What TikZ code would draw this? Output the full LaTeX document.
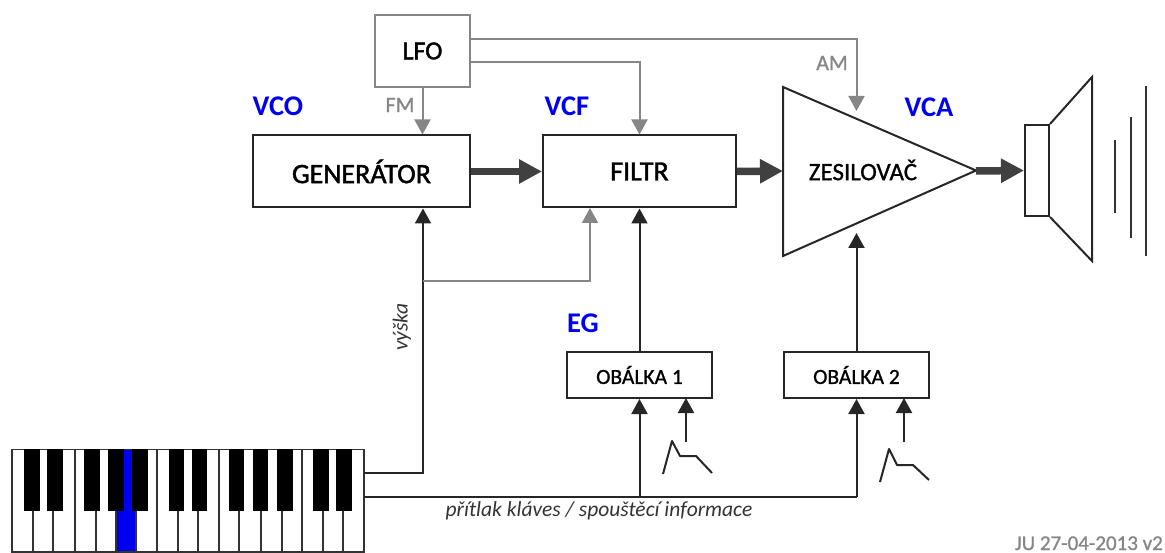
\documentclass[tikz,border=0pt]{standalone}
\usepackage{fontspec}
\setmainfont{Carlito}
\newfontfamily\semi[FakeBold=1.6]{Carlito}
\newfontfamily\semilt[FakeBold=1.0]{Carlito}
\usetikzlibrary{arrows.meta,calc}
\definecolor{lg}{HTML}{868686}
\definecolor{dk}{HTML}{404040}
\definecolor{vblue}{HTML}{0000F0}
\tikzset{
 box/.style={draw=black!85,line width=2pt,fill=white,inner sep=0pt,font=\semi\fontsize{28}{28}\selectfont},
 smallbox/.style={box,font=\semilt\fontsize{21.5}{22}\selectfont},
 graybox/.style={draw=lg,line width=2pt,fill=white,inner sep=0pt,font=\semi\fontsize{26}{26}\selectfont},
 wire/.style={line width=2pt,draw=black!85,-{Triangle[width=16pt,length=15pt]}},
 plainwire/.style={line width=2pt,draw=black!85},
 graywire/.style={line width=2pt,draw=lg,-{Triangle[width=16pt,length=15pt]}},
 thick arrow/.style={line width=7.5pt,draw=dk,-{Triangle[width=23pt,length=23pt]}},
 blab/.style={text=vblue,font=\bfseries\fontsize{28.5}{29}\selectfont,inner sep=0pt},
 glab/.style={text=lg,font=\semilt\fontsize{22}{22}\selectfont,inner sep=0pt},
 ilab/.style={text=black!80,font=\itshape\fontsize{21.5}{22}\selectfont,inner sep=0pt},
 spk/.style={line width=2pt,draw=black!85},
 wave/.style={line width=2pt,draw=black!80},
 env/.style={line width=2pt,draw=black!85,line join=round},
 wkey/.style={draw=black!80,line width=1.8pt},
 bkey/.style={fill=black,draw=none},
}
\begin{document}
\begin{tikzpicture}[x=1pt,y=-1pt]
\useasboundingbox (0,0) rectangle (1165,553);
% boxes
\node[graybox,minimum width=95pt,minimum height=72pt] (lfo) at (422.5,51) {LFO};
\node[box,minimum width=217pt,minimum height=72pt] (gen) at (361.5,171.5) {GENERÁTOR};
\node[box,minimum width=193pt,minimum height=72pt] (fil) at (639.5,171.5) {FILTR};
\node[smallbox,minimum width=145pt,minimum height=46pt] (ob1) at (639.5,375) {OBÁLKA 1};
\node[smallbox,minimum width=145pt,minimum height=46pt] (ob2) at (856.5,375) {OBÁLKA 2};
% amplifier
\draw[spk,line join=miter] (783,87) -- (976,170.5) -- (783,256) -- cycle;
\node[inner sep=0pt,font=\semilt\fontsize{25}{25}\selectfont] (zes) at (863,170) {ZESILOVAČ};
\coordinate (ampin) at (783,171);
\coordinate (ampout) at (976,171);
\coordinate (ampT) at (856.5,111);
\coordinate (ampB) at (856.5,233);
% speaker
\node[spk,fill=white,minimum width=24pt,minimum height=91pt,inner sep=0pt] (spk) at (1037,170.5) {};
\draw[spk] (spk.north east) -- (1092,77) -- (1092,261) -- (spk.south east);
\draw[wave] (1115,140) -- (1115,213);
\draw[wave] (1130.5,117) -- (1130.5,238);
\draw[wave] (1146,86) -- (1146,256);
% thick
\draw[thick arrow] (gen.east) -- (fil.west);
\draw[thick arrow] (fil.east) -- (ampin);
\draw[thick arrow] (ampout) -- (spk.west);
% keyboard
\coordinate (kb1) at (364,473);
\coordinate (kb2) at (364,497);
\fill[vblue] (116.5,510) rectangle (136.5,553);
\foreach \x in {33,53,75,96,116,136,157,178,198,219,239,261,282,302,323,343}{
  \draw[wkey] (\x,449.5) -- (\x,552);
}
\draw[wkey] (12,449.5) rectangle (364,552);
\foreach \a/\b in {24/39.5,47/63,84/100,108/124,132/148,169/184,192/207,229/244,253/268,277/293,313/329,336/352}{
  \fill[bkey] (\a,449) rectangle (\b,510.5);
}
\fill[vblue] (124,450) rectangle (132,511);
% wires
\draw[wire] (kb1) -| (gen.south -| 423,207);
\coordinate (jct) at (423,281);
\draw[graywire] (jct) -- (590,281) -- (590,208);
\draw[plainwire] (kb2) -- (856.5,497);
\coordinate (bus1) at (639.5,497);
\coordinate (bus2) at (856.5,497);
\draw[wire] (bus1) -- (ob1.south);
\draw[wire] (bus2) -- (ob2.south);
\draw[wire] (ob1.north) -- (fil.south);
\draw[wire] (ob2.north) -- (ampB);
\coordinate (e1) at (686,442);
\coordinate (e2) at (904,442);
\draw[wire] (e1) -- (686,398);
\draw[wire] (e2) -- (904,398);
\draw[env] (663,474) -- (672,441) -- (680,456) -- (696,456) -- (712,473);
\draw[env] (880,482) -- (889,449) -- (897,465) -- (913,465) -- (929,480);
% gray
\draw[graywire] (lfo.south) -- (lfo.south |- gen.north);
\coordinate (lfoA) at (470,39);
\coordinate (lfoB) at (470,62.5);
\draw[graywire] (lfoA) -| (ampT);
\draw[graywire] (lfoB) -| (fil.north);
% labels
\node[blab] (vco) at (278,106) {VCO};
\node[blab] (vcf) at (567,106) {VCF};
\node[blab] (vca) at (929,107) {VCA};
\node[blab] (eg) at (583,323) {EG};
\node[glab] (fm) at (400,105) {FM};
\node[glab] (am) at (832,63) {AM};
\node[ilab,rotate=90] (vy) at (402,327) {výška};
\node[ilab] (pr) at (599,511) {přítlak kláves / spouštěcí informace};
\node[text=lg,font=\semilt\fontsize{21}{21}\selectfont,inner sep=0pt,anchor=base east] (ju) at (1163,550) {JU 27-04-2013 v2};
\end{tikzpicture}
\end{document}
